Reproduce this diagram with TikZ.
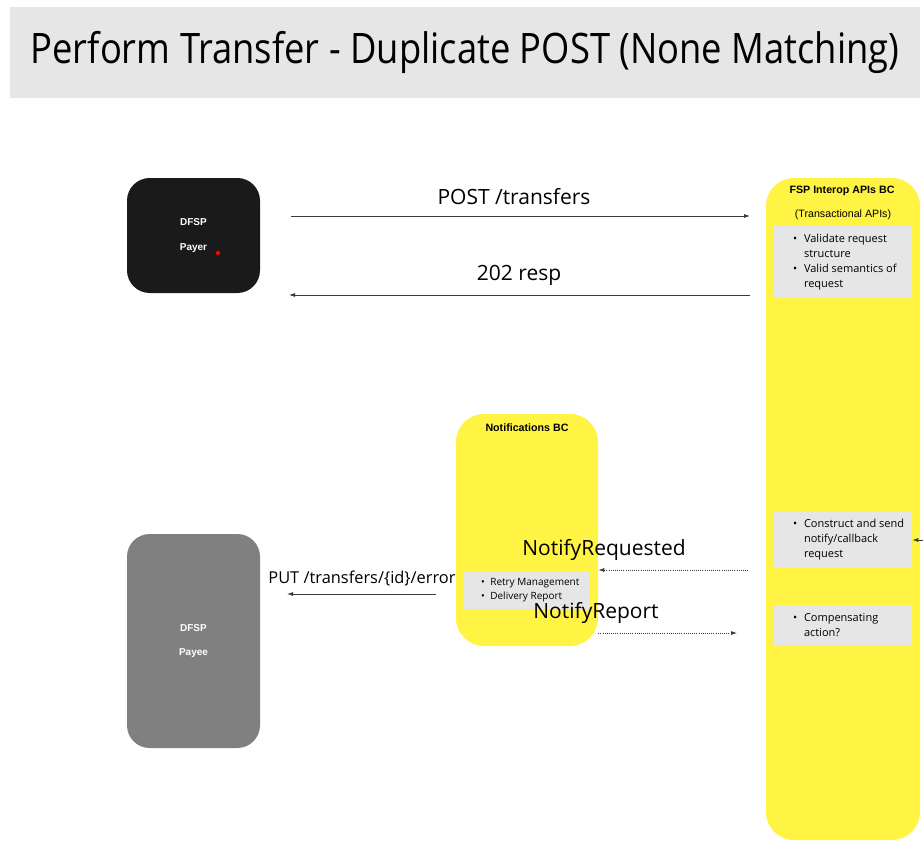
\documentclass[tikz,border=0pt]{standalone}
\usepackage{fontspec}
\setmainfont{Open Sans}
\newfontfamily\titlefont[FakeStretch=0.865]{Open Sans}
\newfontfamily\boxfont{Liberation Sans}
\usepackage{tikz}
\usetikzlibrary{arrows.meta, positioning}

\definecolor{bcyellow}{HTML}{FFF343}
\definecolor{panelgray}{HTML}{E6E6E6}
\definecolor{payerblack}{HTML}{1A1A1A}
\definecolor{payeegray}{HTML}{808080}
\definecolor{linkgray}{HTML}{3A3A3A}

\newcommand{\bl}{\makebox[8.25pt][l]{\textbullet}}
\newcommand{\nb}{\hspace*{8.25pt}}

\begin{document}
\begin{tikzpicture}[x=0.75pt, y=-0.75pt, >={Latex[length=4.5pt,width=3pt]},
    bc/.style={fill=bcyellow, rounded corners=21pt, inner sep=0pt},
    dfsp/.style={rounded corners=17pt, text=white, align=center,
      font=\boxfont\bfseries\fontsize{7.5}{18.5}\selectfont},
    panel/.style={fill=panelgray, inner sep=0pt, minimum width=103.5pt},
    items/.style={anchor=west, align=left, inner sep=0pt,
      font=\fontsize{8.25}{11.25}\selectfont},
    bctitle/.style={font=\boxfont\fontsize{8}{10}\selectfont},
    msg/.style={font=\fontsize{15.75}{18}\selectfont},
    link/.style={draw=linkgray, line width=0.6pt}]

        \fill[white] (0, 0) rectangle (923, 860);
        \useasboundingbox (0, 0) rectangle (923, 860);

        \node[fill=panelgray, minimum width=682.5pt, minimum height=68.25pt,
          font=\titlefont\fontsize{31.5}{36}\selectfont] (title) at (465, 52.5)
          {Perform Transfer - Duplicate POST (None Matching)};

        % the two DFSPs
        \node[dfsp, fill=payerblack, minimum width=99.75pt, minimum height=86.25pt]
          (payer) at (193.5, 235.5) {DFSP\\Payer};
        \node[circle, fill=red, inner sep=0pt, minimum size=3.2pt] (dot) at (218, 253) {};
        \node[dfsp, fill=payeegray, minimum width=99.75pt, minimum height=160.5pt]
          (payee) at (193.5, 641) {DFSP\\Payee};

        % bounded contexts
        \node[bc, minimum width=115.5pt, minimum height=496.5pt] (fsp) at (843, 509) {};
        \node[bctitle, font=\boxfont\bfseries\fontsize{8}{10}\selectfont] (fsptitle)
          at (842, 191) {FSP Interop APIs BC};
        \node[bctitle] (fspsub) at (843, 215) {(Transactional APIs)};

        \node[bc, minimum width=106.5pt, minimum height=174pt] (notif) at (527, 530) {};
        \node[bctitle, font=\boxfont\bfseries\fontsize{8}{10}\selectfont] (notiftitle)
          at (527, 428) {Notifications BC};

        % panels
        \node[panel, minimum height=54pt] (validate) at (843, 262) {};
        \node[items] (validatetxt) at ([xshift=14.25pt]validate.west)
          {\bl Validate request\\\nb structure\\\bl Valid semantics of\\\nb request};

        \node[panel, minimum height=42pt] (construct) at (843, 540) {};
        \node[items] (constructtxt) at ([xshift=14.25pt]construct.west)
          {\bl Construct and send\\\nb notify/callback\\\nb request};

        \node[panel, minimum height=30.75pt] (compensate) at (843, 625.5) {};
        \node[items] (compensatetxt) at ([xshift=14.25pt]compensate.west)
          {\bl Compensating\\\nb action?};

        \node[panel, minimum width=94.5pt, minimum height=28.5pt] (retry) at (527, 590) {};
        \node[items, font=\fontsize{7.5}{10.5}\selectfont] (retrytxt)
          at ([xshift=12.75pt]retry.west)
          {\makebox[7pt][l]{\textbullet}Retry Management\\
           \makebox[7pt][l]{\textbullet}Delivery Report};

        % messages
        \coordinate (post-s) at (291, 216);
        \coordinate (post-e) at (750, 216);
        \coordinate (resp-s) at (750, 295);
        \coordinate (resp-e) at (289, 295);
        \coordinate (nreq-s) at (748, 570);
        \coordinate (nrep-e) at (737, 633);
        \coordinate (put-s) at (436, 594);
        \coordinate (put-e) at (287, 594);
        \coordinate (edge) at (923, 540);

        \draw[link, ->] (post-s) -- (post-e);
        \node[msg] (postlbl) at (514, 197) {POST /transfers};
        \draw[link, ->] (resp-s) -- (resp-e);
        \node[msg] (resplbl) at (519, 275) {202 resp};

        \draw[link, ->, densely dotted] (nreq-s) -- (notif.east |- nreq-s);
        \node[msg] (nreqlbl) at (604, 550) {NotifyRequested};
        \draw[link, ->, densely dotted] (notif.east |- nrep-e) -- (nrep-e);
        \node[msg] (nreplbl) at (596, 613) {NotifyReport};

        \draw[link, ->] (put-s) -- (put-e);
        \node[msg, font=\fontsize{12.3}{15}\selectfont] (putlbl) at (362, 579)
          {PUT /transfers/\{id\}/error};

        \draw[link, ->] (edge) -- (construct.east);
\end{tikzpicture}
\end{document}
